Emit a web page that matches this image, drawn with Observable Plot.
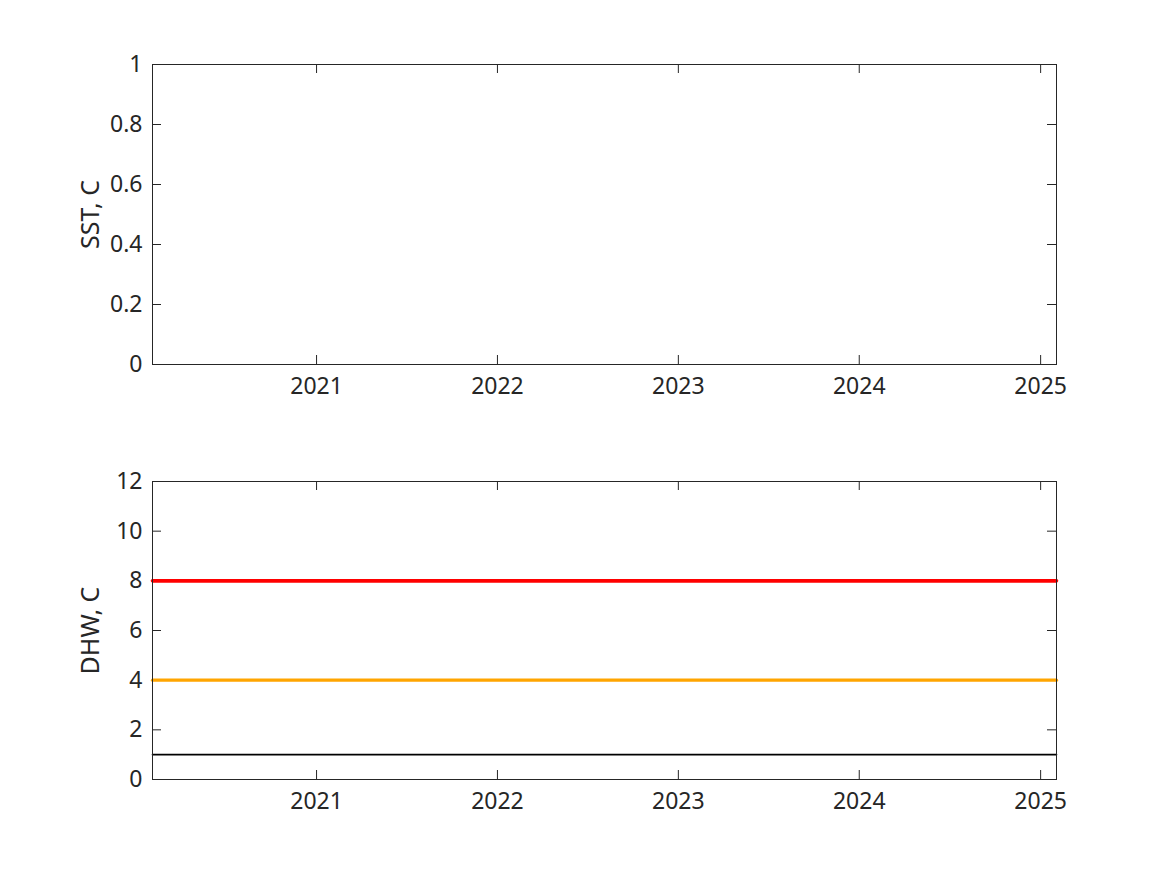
<!DOCTYPE html>
<html>
<head>
<meta charset="utf-8">
<script src="https://cdn.jsdelivr.net/npm/d3@7"></script>
<script src="https://cdn.jsdelivr.net/npm/@observablehq/plot@0.6"></script>
<style>
  html, body { margin: 0; padding: 0; background: #ffffff; }
  #chart { width: 1167px; height: 875px; }
  #chart svg { display: block; }
</style>
</head>
<body>
<div id="chart"></div>
<script>
// ---- data ----
const timeRange = ["2020-02-05", "2025-02-02"];   // x-limits of both panels
const tickYears = [2021, 2022, 2023, 2024, 2025];
const sstTicks = [0, 0.2, 0.4, 0.6, 0.8, 1];
const sstDomain = [0, 1];
const dhwTicks = [0, 2, 4, 6, 8, 10, 12];
const dhwDomain = [0, 12];
const dhwThresholds = [1, 4, 8];
const sstLabel = "SST, C";
const dhwLabel = "DHW, C";

// ---- styles ----
const INK = "#262626";
const thresholdStyle = {1: {stroke: "#000000", w: 1.6}, 4: {stroke: "#FFA500", w: 3.2}, 8: {stroke: "#FF0000", w: 3.6}};
const FONT = "Noto Sans";
const FS = 23;
const LFS = 25;

const parse = d3.utcParse("%Y-%m-%d");
const xDomain = timeRange.map(parse);
const xTickDates = tickYears.map(y => new Date(Date.UTC(y, 0, 1)));
const W = 1167, ML = 152, MR = 111;
const innerW = W - ML - MR;
const TICK = 9;

function panel({height, marginTop, marginBottom, yDomain, yTicks, label, extra}) {
  const innerH = height - marginTop - marginBottom;
  return Plot.plot({
    width: W, height, marginLeft: ML, marginRight: MR, marginTop, marginBottom,
    style: {fontFamily: FONT, fontSize: FS + "px", color: INK, background: "white", overflow: "visible"},
    x: {type: "utc", domain: xDomain},
    y: {domain: yDomain},
    marks: [
      Plot.tickX(xTickDates, {x: d => d, insetTop: innerH - TICK, stroke: INK}),
      Plot.tickX(xTickDates, {x: d => d, insetBottom: innerH - TICK, stroke: INK}),
      Plot.tickY(yTicks, {y: d => d, insetRight: innerW - TICK, stroke: INK}),
      Plot.tickY(yTicks, {y: d => d, insetLeft: innerW - TICK, stroke: INK}),
      ...extra,
      Plot.frame({stroke: INK, strokeWidth: 1}),
      Plot.axisX(xTickDates, {tickSize: 0, tickPadding: 13, tickFormat: d3.utcFormat("%Y"), label: null, fill: INK, fontSize: FS, fontFamily: FONT}),
      Plot.axisY(yTicks, {tickSize: 0, tickPadding: 10, tickFormat: d => String(d), label: null, fill: INK, fontSize: FS, fontFamily: FONT}),
      Plot.text([label], {text: d => d, frameAnchor: "left", rotate: -90, dx: -62, lineAnchor: "middle", textAnchor: "middle", fill: INK, fontSize: LFS, fontFamily: FONT})
    ]
  });
}

const sstPanel = panel({
  height: 437, marginTop: 64, marginBottom: 73,
  yDomain: sstDomain, yTicks: sstTicks, label: sstLabel, extra: []
});

const lineData = dhwThresholds.flatMap(v => xDomain.map(t => ({t, v})));
const dhwPanel = panel({
  height: 438, marginTop: 44, marginBottom: 96,
  yDomain: dhwDomain, yTicks: dhwTicks, label: dhwLabel,
  extra: dhwThresholds.map(v =>
    Plot.line(lineData.filter(d => d.v === v), {x: "t", y: "v", stroke: thresholdStyle[v].stroke, strokeWidth: thresholdStyle[v].w})
  )
});

document.getElementById("chart").append(sstPanel, dhwPanel);
</script>
</body>
</html>
